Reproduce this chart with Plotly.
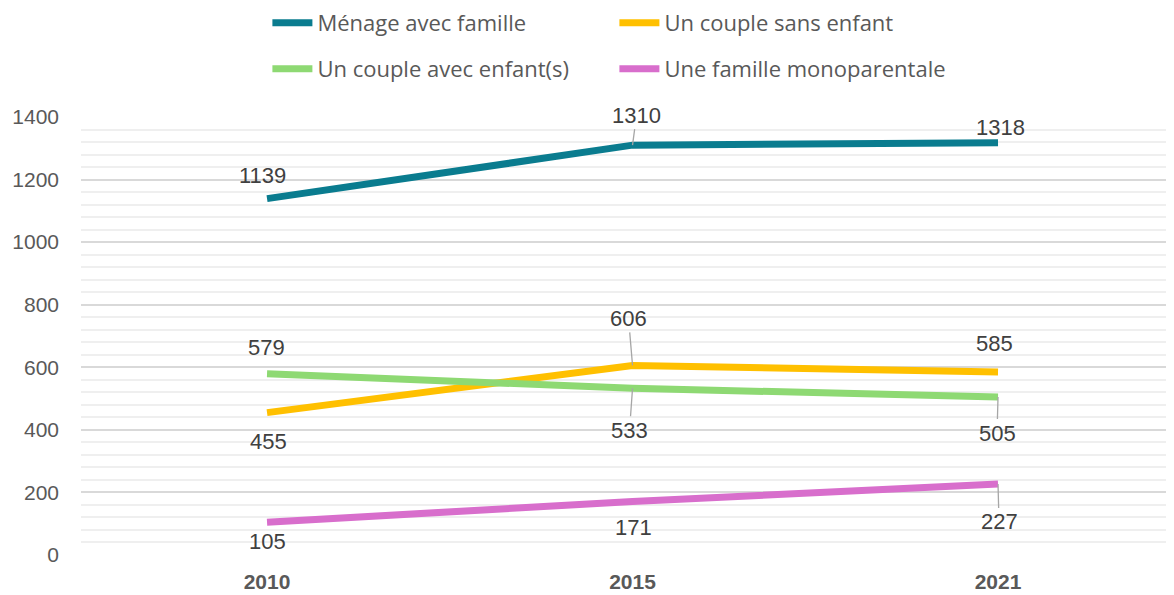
import plotly.graph_objects as go

years = ["2010", "2015", "2021"]
series_names = ["Ménage avec famille", "Un couple sans enfant",
                "Un couple avec enfant(s)", "Une famille monoparentale"]
menage = [1139, 1310, 1318]
sans_enfant = [455, 606, 585]
avec_enfant = [579, 533, 505]
monoparentale = [105, 171, 227]

values = [menage, sans_enfant, avec_enfant, monoparentale]
colors = ["#0A7C8F", "#FFC000", "#8ED973", "#D86ECC"]
legends = ["legend", "legend", "legend2", "legend2"]

# label offsets (px) relative to point, and whether a leader line is drawn
label_offsets = [
    [(-5, -23, False), (4, -30, True), (2, -15, False)],
    [(1, 29, False), (-4, -47, True), (-4, -28, False)],
    [(-1, -26, False), (-3, 42, True), (-1, 36, True)],
    [(0, 19, False), (1, 26, False), (1, 38, True)],
]

fig = go.Figure()
for name, vals, col, lg in zip(series_names, values, colors, legends):
    fig.add_trace(go.Scatter(
        x=years, y=vals, name=name, mode="lines",
        line=dict(color=col, width=7), legend=lg,
    ))

label_font = dict(family="Liberation Sans, Arial, sans-serif", size=22, color="#404040")
annotations = []
for vals, offs in zip(values, label_offsets):
    for i, (yv, (dx, dy, leader)) in enumerate(zip(vals, offs)):
        if leader:
            annotations.append(dict(x=i, y=yv, xref="x", yref="y", text=str(yv),
                                    showarrow=True, arrowhead=0, arrowwidth=1.3,
                                    arrowcolor="#A6A6A6", ax=dx, ay=dy,
                                    axref="pixel", ayref="pixel", font=label_font))
        else:
            annotations.append(dict(x=i, y=yv, xref="x", yref="y", text=str(yv),
                                    showarrow=False, xshift=dx, yshift=-dy,
                                    font=label_font))

W, H = 1166, 587
legend_common = dict(
    orientation="h", xref="container", yref="container",
    xanchor="left", yanchor="middle", entrywidth=292, entrywidthmode="pixels",
    font=dict(family="Open Sans, sans-serif", size=22, color="#595959"),
    bgcolor="rgba(0,0,0,0)", borderwidth=0, itemwidth=40,
)

fig.update_layout(
    width=W, height=H,
    margin=dict(l=73, r=0, t=109, b=40, autoexpand=False),
    paper_bgcolor="white", plot_bgcolor="white",
    showlegend=True,
    annotations=annotations,
    legend=dict(x=259.4 / W, y=1 - 15 / H, **legend_common),
    legend2=dict(x=259.4 / W, y=1 - 61 / H, **legend_common),
    xaxis=dict(
        type="category", range=[-0.509, 2.4815], showgrid=False, zeroline=False,
        showline=False, ticks="", ticklabelstandoff=12,
        tickfont=dict(family="Liberation Sans, Arial, sans-serif", size=21,
                      color="#595959", weight="bold"),
    ),
    yaxis=dict(
        range=[0, 1400], dtick=200, tick0=0, showgrid=True,
        gridcolor="#D9D9D9", gridwidth=1.5, zeroline=False, showline=False,
        ticks="", ticklabelstandoff=21,
        tickfont=dict(family="Liberation Sans, Arial, sans-serif", size=21, color="#595959"),
        minor=dict(dtick=40, tick0=0, showgrid=True, gridcolor="#EFEFEF", gridwidth=1.5),
    ),
)

fig.write_html("out.html")
